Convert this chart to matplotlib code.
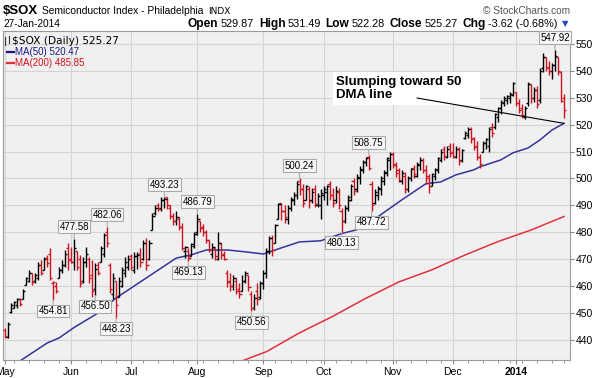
import numpy as np
import pandas as pd
import matplotlib
matplotlib.use('Agg')
import matplotlib.pyplot as plt
from matplotlib.lines import Line2D
from matplotlib.patches import Rectangle

plt.rcParams['font.family'] = ['Liberation Sans', 'DejaVu Sans']

# market holidays inside the window (trading-day axis)
holidays = ['2013-05-27', '2013-07-04', '2013-09-02', '2013-11-28',
            '2013-12-25', '2014-01-01', '2014-01-20']

# daily OHLC, May 1 2013 .. Jan 27 2014
opens = [443.5, 441, 450.5, 452, 453, 455, 455, 460.5, 462, 465, 462, 463, 468, 466, 470.5, 472, 461, 460, 463, 466, 468, 474,
         470, 469, 473, 470, 462, 469, 470, 464, 459, 468, 469, 472, 480, 468, 457, 462, 456, 460, 465, 467,
         471, 466, 471, 472, 470, 476, 470, 481, 487, 490, 489, 492, 493, 489, 486, 484, 485, 482, 473, 473, 471, 475,
         480, 484, 482, 480, 477, 472, 474, 470, 476, 472, 465, 462, 460, 462, 459, 458, 462, 464, 457, 452, 458, 456,
         461, 465, 473, 478, 476, 485, 491, 488, 485, 489, 492, 494, 499, 496, 492, 496, 492, 496, 490, 490,
         494, 495, 498, 494, 492, 495, 488, 484, 489, 492, 499, 496, 500, 503, 506, 508, 498, 491, 494, 496, 499, 502, 507,
         509, 505, 503, 499, 501, 496, 500, 504, 501, 505, 507, 503, 501, 497, 501, 503, 507, 511, 508, 512,
         510, 508, 511, 507, 515, 516, 518.5, 515, 512, 508, 510, 513, 512, 519, 519, 523, 526, 528, 529, 530, 531,
         532, 528, 526, 523, 528, 535, 530, 533, 529, 541, 545, 541, 540, 542, 545, 539.5, 529.87]
highs = [444.5, 446.7, 453.7, 454.5, 455.6, 455.5, 459, 463.4, 466, 465, 465, 469, 469.5, 470.8, 471.6, 474, 462, 461.5, 467, 469.7, 473.4, 476,
         474.5, 477.58, 473, 471.6, 470.8, 474.5, 470.8, 469.7, 468.6, 469, 475, 479.7, 482.06, 468.6, 465, 462, 463.4, 467, 470.8, 471.6,
         472, 472.7, 472.5, 474, 477, 478, 477, 487, 490, 491, 493, 493.23, 493, 490, 487, 488, 485.7, 483.5, 475, 474, 476, 480,
         486.79, 484, 483, 481, 477, 476, 474, 480, 476, 473, 466, 465, 464, 463, 461, 464, 465.5, 464, 458, 457, 461, 462,
         466, 474, 478.5, 479, 483, 491, 491, 490, 490, 493, 495, 499, 500.24, 498, 497.5, 497, 496.5, 497.5, 494.5, 496,
         497, 497.5, 499, 496.5, 497, 496.5, 489, 490, 494, 498, 500, 501.5, 504.5, 507, 508, 508.75, 499, 496, 497, 501, 503, 508, 510,
         510, 506, 504, 503, 502.5, 501, 504, 505, 506, 508, 507.5, 505, 501.5, 502, 504, 508, 511, 512, 512, 513,
         513, 512, 511.5, 511, 517.5, 519, 519, 515.5, 514, 509, 514, 515, 519, 520.5, 524.5, 526.5, 529, 530.5, 531, 532, 536,
         532, 529.5, 527.5, 527, 536, 535, 534, 534.5, 541, 546.5, 545, 543.5, 543, 547.92, 545, 540, 531.49]
lows = [440.5, 440.5, 450, 451.9, 452, 452.5, 455, 460.4, 461.5, 460.5, 461, 462.3, 464, 466, 467, 462.3, 454.81, 457.4, 463, 465, 467, 466,
        468.6, 466, 466, 459.7, 461, 467, 461, 456, 456.5, 464, 469, 470.8, 474.5, 457.4, 455, 448.23, 456, 459.7, 463.4, 466,
        466, 465, 466.5, 467, 469.7, 466, 469.7, 481, 486.4, 488, 488, 489, 488.5, 485, 482.6, 482.5, 481, 473.4, 470.5, 469.13, 471, 474,
        479, 480, 478.5, 476, 472.5, 470.5, 469.5, 469.5, 470, 469.5, 459.5, 458, 458.5, 457, 455.5, 458, 461, 458, 450.56, 451, 453, 455,
        459, 463, 472, 471, 476, 485, 484.5, 483.5, 483, 488, 490, 492.5, 494, 489.5, 492, 489, 491, 489.5, 489.5, 485,
        492, 490, 492, 489.5, 491, 488.5, 480.13, 483.5, 488, 491.5, 494, 495, 498, 502, 504.5, 503, 487.72, 490.5, 492, 494, 497.5, 501, 503,
        504, 500.5, 498.5, 498, 494.5, 495, 499, 500, 500.5, 503, 502, 498, 494.6, 497, 499.5, 502, 506, 507, 507.5, 508,
        507.5, 507.5, 505, 506, 514.5, 515, 513, 510.5, 507, 504, 510, 511, 510, 515.5, 518.5, 521, 524, 527, 527.5, 528, 530.5,
        527, 524.5, 522.5, 522, 527, 528, 528.5, 526, 528, 539.5, 540, 538.5, 537, 540, 538.5, 528.5, 522.28]
closes = [441.5, 446, 453, 454, 455, 453.5, 458, 463, 465, 461.5, 464, 468, 465, 470, 468.5, 463, 461.5, 458, 466, 468, 472, 469.5,
          469, 474, 467, 461, 469, 472, 463, 458, 466.5, 465, 474, 479, 476, 459, 463, 453, 462, 466, 469, 470,
          467, 471, 471.5, 469, 476, 468, 476, 486, 489, 488.5, 492, 492.5, 490, 486, 484, 485.5, 482, 474, 474.5, 470.5, 475.5, 479.5,
          485, 481.5, 480, 477, 473.5, 474.5, 471, 476, 471.5, 470, 461.5, 460, 463, 458, 457, 462, 465, 459.5, 452, 455.5, 455, 461,
          465, 473, 478, 473.5, 482.5, 490.5, 488, 485.5, 489, 492.5, 494, 498, 496, 491, 497, 491.5, 495, 490.5, 493.5, 494.5,
          496, 497, 494, 491, 495.5, 490, 484, 489, 493, 497, 495.5, 500.5, 503.5, 506, 507.5, 504, 490, 495, 496.5, 500, 502.5, 507.5, 509,
          505.5, 502, 499.5, 502, 496, 500, 503.5, 501.5, 505.5, 507, 503, 500, 497, 501.5, 503.5, 507.5, 510, 508.5, 511, 509.5,
          508.5, 511, 506.5, 510.5, 517, 518.5, 514.5, 511.5, 508, 505.5, 513, 514.5, 518.5, 517, 524, 526, 528.5, 530, 530.5, 531.5, 535.5,
          528, 525.5, 523.5, 526, 535, 530, 533, 527.5, 540, 545, 541.5, 540, 542, 545.5, 540, 528.89, 525.27]

# moving averages read at a few trading-day positions
ma50_idx = [0, 6, 14, 18, 23, 31, 37, 45, 52, 57, 62, 67, 74, 80, 86, 92, 98, 105, 112, 117,
            124, 132, 140, 145, 150, 156, 158, 165, 169, 174, 178, 182, 186]
ma50_val = [428.5, 432.9, 438.8, 440.7, 444.6, 450.0, 455.6, 461.5, 466.7, 470.4, 471.6, 473.4, 473.4, 472.7,
            471.9, 474.2, 476.4, 476.8, 479.5, 480.9, 485.7, 492.0, 498.0, 498.7, 501.3, 503.2, 504.3, 506.9,
            509.5, 511.3, 514.3, 518.0, 520.47]
ma200_idx = [78, 87, 98, 109, 120, 131, 142, 153, 164, 175, 186]
ma200_val = [431.8, 435.6, 442.6, 448.7, 455.4, 461.5, 466.0, 471.5, 476.5, 480.8, 485.85]

# labelled swing points (trading-day index)
peak_idx = [23, 34, 53, 64, 98, 121, 183]
trough_idx = [16, 30, 37, 61, 82, 112, 122]

opens, highs, lows, closes = map(np.array, (opens, highs, lows, closes))
days = pd.bdate_range('2013-05-01', '2014-01-27')
days = days[~days.isin(pd.to_datetime(holidays))]
x = np.arange(len(days))

W, H = 597, 378
fig = plt.figure(figsize=(W / 100, H / 100), dpi=100)
ax = fig.add_axes([3 / W, 18 / H, 567 / W, 329 / H])
ax.set_facecolor('#f0f0f0')

prev = np.r_[opens[0], closes[:-1]]
cols = np.where(closes < prev, '#d0121e', '#000000')
ax.vlines(x, lows, highs, colors=cols, lw=1, zorder=3)
ax.hlines(opens, x - 0.75, x, colors=cols, lw=1, zorder=3)
ax.hlines(closes, x, x + 0.75, colors=cols, lw=1, zorder=3)

ax.plot(ma50_idx, ma50_val, color='#34349a', lw=1.1, zorder=2)
ax.plot(ma200_idx, ma200_val, color='#e0303c', lw=1.1, zorder=2)

ax.set_xlim(-0.67, 188)
ax.set_ylim(432.5, 554.8)

# axes, ticks, grid
month_starts = [i for i in range(len(days)) if i == 0 or days[i].month != days[i - 1].month]
labels = ['2014' if days[i].month == 1 else days[i].strftime('%b') for i in month_starts]
week_starts = [i for i in range(len(days)) if i == 0 or days[i].weekday() < days[i - 1].weekday()]
ax.set_xticks(month_starts)
ax.set_xticklabels(labels, fontsize=7.5)
ax.get_xticklabels()[-1].set_fontweight('bold')
ax.set_xticks(week_starts, minor=True)
ax.set_yticks(range(440, 551, 10))
ax.yaxis.tick_right()
ax.tick_params(axis='y', labelsize=7.5, length=3, pad=1, color='#888888')
ax.tick_params(axis='x', which='major', length=3, pad=2, color='#888888')
ax.tick_params(axis='x', which='minor', length=2, color='#888888')
ax.grid(True, which='major', color='#d4d4d4', lw=0.8, zorder=0)
ax.set_axisbelow(True)
for s in ax.spines.values():
    s.set_color('#999999')
    s.set_linewidth(0.8)

# swing labels
box = dict(boxstyle='square,pad=0.15', fc='#f7f7f7', ec='#aaaaaa', lw=0.8)
arr = dict(arrowstyle='-', color='#aaaaaa', lw=0.8, shrinkA=0, shrinkB=0)
for i in peak_idx:
    ax.annotate(f'{highs[i]:.2f}', xy=(i, highs[i]), xytext=(0, 12), textcoords='offset pixels',
                ha='center', va='center', fontsize=7, bbox=box, arrowprops=arr, zorder=6)
for i in trough_idx:
    ax.annotate(f'{lows[i]:.2f}', xy=(i, lows[i]), xytext=(0, -11), textcoords='offset pixels',
                ha='center', va='center', fontsize=7, bbox=box, arrowprops=arr, zorder=6)

# callout
ax.add_patch(Rectangle((333 / W, 1 - 105 / H), 147 / W, 33 / H, transform=fig.transFigure,
                       fc='white', ec='none', zorder=4))
fig.text(336 / W, 1 - 76 / H, 'Slumping toward 50\nDMA line', fontsize=9.5, weight='bold',
         va='top', ha='left', linespacing=1.1, zorder=5)
ax.annotate('', xy=(x[-1], ma50_val[-1]), xytext=(417, H - 98), textcoords='figure pixels',
            arrowprops=dict(arrowstyle='-', color='black', lw=0.8, shrinkA=0, shrinkB=0), zorder=6)

# legend block inside plot
for (xa, y0, y1) in [(5, 37, 45), (9, 35.5, 43)]:
    fig.add_artist(Line2D([xa / W, xa / W], [1 - y1 / H, 1 - y0 / H], color='#333333', lw=0.8))
fig.text(12 / W, 1 - 41 / H, '\\$SOX (Daily) 525.27', fontsize=7.6, family='DejaVu Sans', va='center')
fig.add_artist(Line2D([7 / W, 14 / W], [1 - 52 / H] * 2, color='#1a1a80', lw=1.6))
fig.text(15 / W, 1 - 52 / H, 'MA(50) 520.47', fontsize=7, color='#1a1a80', va='center')
fig.add_artist(Line2D([7 / W, 14 / W], [1 - 63 / H] * 2, color='#e0303c', lw=1.6))
fig.text(15 / W, 1 - 63 / H, 'MA(200) 485.85', fontsize=7, color='#d0121e', va='center')

# header
r = fig.canvas.get_renderer()
fig.text(3 / W, 1 - 11 / H, '\\$SOX', fontsize=9.5, weight='bold', va='center')
t = fig.text(42 / W, 1 - 11 / H, 'Semiconductor Index - Philadelphia', fontsize=7.4, va='center')
xend = 42 + t.get_window_extent(r).width
fig.text((xend + 5) / W, 1 - 11 / H, 'INDX', fontsize=6.5, va='center', family='DejaVu Sans')
fig.text(570 / W, 1 - 11 / H, '\u00a9 StockCharts.com', fontsize=7.3, color='#555555', va='center', ha='right')
fig.text(3 / W, 1 - 24 / H, '27-Jan-2014', fontsize=7.3, va='center')

pieces = [('Open', True), ('529.87', False), ('High', True), ('531.49', False), ('Low', True),
          ('522.28', False), ('Close', True), ('525.27', False), ('Chg', True), ('-3.62 (-0.68%)', False)]
xpos = 188
for txt, bold in pieces:
    t = fig.text(xpos / W, 1 - 24 / H, txt, fontsize=8.6 if bold else 7.8,
                 weight='bold' if bold else 'normal', va='center')
    xpos += t.get_window_extent(r).width + (2 if bold else 5)
fig.text(565 / W, 1 - 24 / H, '\u25bc', fontsize=6, color='#2244cc', va='center', ha='center',
         family='DejaVu Sans')

fig.savefig('out.png', dpi=100)
